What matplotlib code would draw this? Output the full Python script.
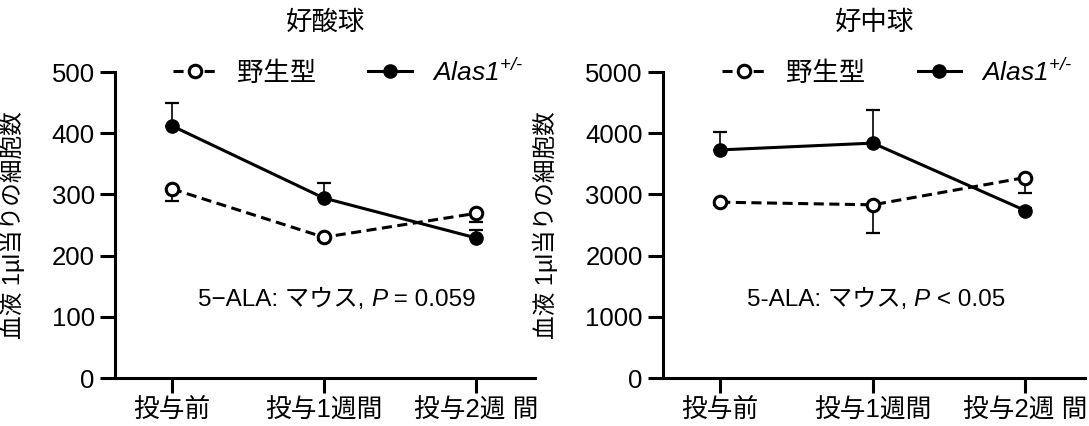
import numpy as np
import matplotlib
matplotlib.use("Agg")
import matplotlib.pyplot as plt

plt.rcParams['font.family'] = ['Liberation Sans', 'Noto Sans CJK JP', 'DejaVu Sans']
plt.rcParams['mathtext.fontset'] = 'custom'
plt.rcParams['mathtext.rm'] = 'Liberation Sans:italic'
plt.rcParams['mathtext.it'] = 'Liberation Sans:italic'

# data
times = ["投与前", "投与1週間", "投与2週 間"]

eos_alas = [412, 294, 229]
eos_alas_err = [37, 25, 13]      # upward only
eos_wt = [309, 230, 269]
eos_wt_err = [19, 4, 14]         # downward only

neu_alas = [3727, 3838, 2735]
neu_alas_err = [293, 534, 40]
neu_wt = [2873, 2830, 3276]
neu_wt_err = [40, 463, 248]

lw = 2.2
fig = plt.figure(figsize=(10.89, 4.26), dpi=100)
ax1 = fig.add_axes([115/1089, 1-378/426, 420/1089, 306/426])
ax2 = fig.add_axes([663/1089, 1-378/426, 422/1089, 306/426])


def panel(ax, wt, wt_err, alas, alas_err, ymax, step, title, p1, p2):
    x = np.arange(len(times))
    z = np.zeros(len(times))
    ax.errorbar(x, wt, yerr=[wt_err, z], fmt='none', ecolor='k', elinewidth=1.2,
                capsize=5, capthick=1.6, zorder=2)
    ax.errorbar(x, alas, yerr=[z, alas_err], fmt='none', ecolor='k', elinewidth=1.2,
                capsize=5, capthick=1.6, zorder=2)
    ax.plot(x, wt, color='k', lw=lw, dashes=(3.3, 1.8), marker='o', ms=9,
            mfc='white', mec='k', mew=2.2, label='野生型', zorder=3)
    ax.plot(x, alas, color='k', lw=lw, marker='o', ms=9.5, mfc='k', mec='k',
            label=r'$\mathrm{Alas1}^{\text{+/-}}$', zorder=4)
    ax.set_xlim(-0.375, 2.39)
    ax.set_ylim(0, ymax)
    ax.set_yticks(np.arange(0, ymax + 1, step))
    ax.set_xticks(x)
    ax.set_xticklabels(times)
    for s in ['top', 'right']:
        ax.spines[s].set_visible(False)
    for s in ['left', 'bottom']:
        ax.spines[s].set_linewidth(lw)
    ax.tick_params(width=lw, length=10.5, labelsize=18.5, pad=4)
    ax.set_ylabel("血液 1µl当りの細胞数", fontsize=17)
    ax.legend(loc='center', bbox_to_anchor=(0.555, 1.0), ncol=2, frameon=False,
              fontsize=19, handlelength=1.65, handletextpad=0.75,
              columnspacing=2.0, borderaxespad=0)
    bb = ax.get_position()
    fig.text(bb.x0 + bb.width/2, 1 - 23/426, title, ha='center', va='center', fontsize=19)
    t1 = ax.text(0.198, 0.255, p1, transform=ax.transAxes, ha='left', va='center', fontsize=17.5)
    t2 = ax.annotate("P", xy=(1, 0), xycoords=t1, ha='left', va='bottom',
                     fontsize=17.5, style='italic')
    ax.annotate(p2, xy=(1, 0), xycoords=t2, ha='left', va='bottom', fontsize=17.5)


panel(ax1, eos_wt, eos_wt_err, eos_alas, eos_alas_err, 500, 100, "好酸球",
      "5\u2212ALA: マウス, ", " = 0.059")
panel(ax2, neu_wt, neu_wt_err, neu_alas, neu_alas_err, 5000, 1000, "好中球",
      "5-ALA: マウス, ", " < 0.05")
ax1.yaxis.set_label_coords(-0.215, 0.5)
ax2.yaxis.set_label_coords(-0.25, 0.5)

fig.savefig("out.png", dpi=100)
